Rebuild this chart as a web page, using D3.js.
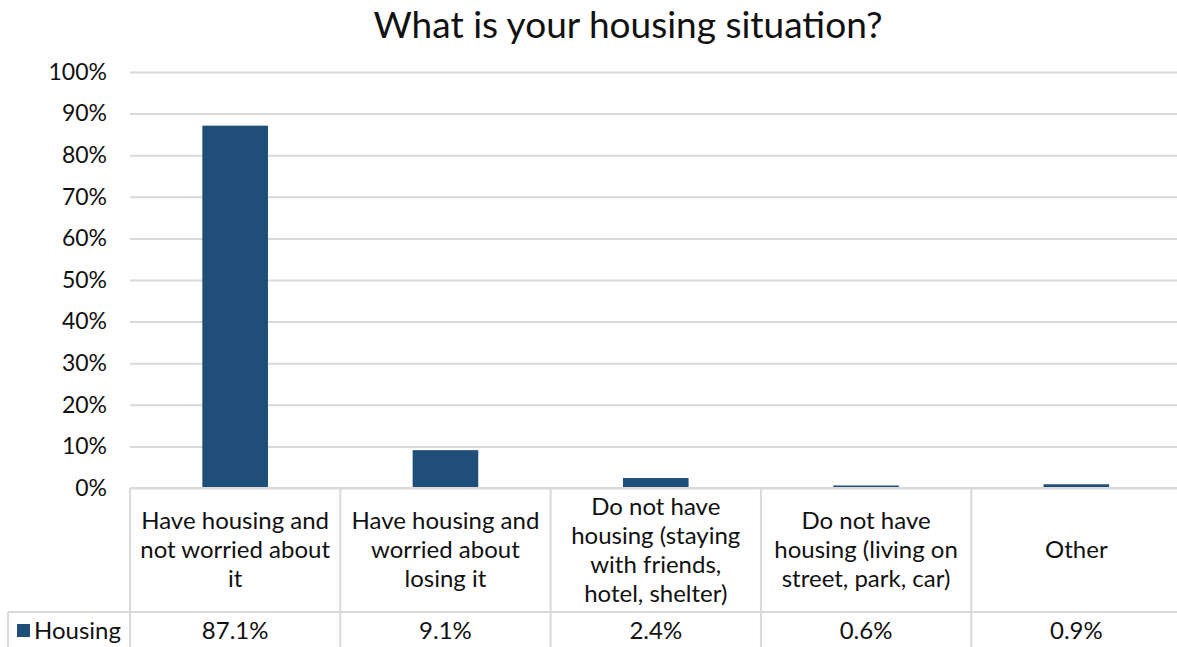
<!DOCTYPE html>
<html>
<head>
<meta charset="utf-8">
<script src="https://cdn.jsdelivr.net/npm/d3@7"></script>
<style>
  body { margin: 0; background: #fff; }
  svg { display: block; font-family: Lato, "Open Sans", sans-serif; font-weight: 400; }
</style>
</head>
<body>
<div id="chart"></div>
<script>
var categories = [
  ["Have housing and", "not worried about", "it"],
  ["Have housing and", "worried about", "losing it"],
  ["Do not have", "housing (staying", "with friends,", "hotel, shelter)"],
  ["Do not have", "housing (living on", "street, park, car)"],
  ["Other"]
];
var values = [87.1, 9.1, 2.4, 0.6, 0.9];
var yTicks = [0, 10, 20, 30, 40, 50, 60, 70, 80, 90, 100];
var seriesName = "Housing";

var width = 1177, height = 647;
var margin = {top: 72, left: 130, bottom: 488};

var svg = d3.select("#chart").append("svg")
    .attr("width", width)
    .attr("height", height);

var x = d3.scaleBand()
    .domain(d3.range(categories.length))
    .range([margin.left, 1181.5])
    .paddingInner(0)
    .paddingOuter(0);

var y = d3.scaleLinear()
    .domain([0, 100])
    .range([margin.bottom, margin.top]);

var gridColor = "#d9d9d9",
    barColor = "#1f4e79",
    textColor = "#111";

var fs = 24;

// title
svg.append("text")
    .attr("x", 628)
    .attr("y", 38)
    .attr("text-anchor", "middle")
    .attr("font-size", 37)
    .attr("fill", textColor)
    .text("What is your housing situation?");

// gridlines + y labels
svg.append("g")
    .attr("transform", "translate(" + margin.left + ",0)")
    .call(d3.axisLeft(y).tickValues(yTicks).tickSize(-(width - margin.left)).tickFormat(function(d) { return d + "%"; }))
    .call(function(g) {
      g.select(".domain").remove();
      g.selectAll(".tick line").attr("stroke", gridColor).attr("stroke-width", 2);
      g.selectAll(".tick text")
        .attr("x", -23)
        .attr("font-size", 23)
        .attr("font-family", "Lato, sans-serif")
        .attr("fill", textColor);
    });

// bars
var barW = x.bandwidth() * 0.312;
svg.selectAll(".bar")
    .data(values)
  .enter().append("rect")
    .attr("class", "bar")
    .attr("x", function(d, i) { return x(i) + x.bandwidth() / 2 - barW / 2; })
    .attr("y", function(d) { return y(d); })
    .attr("width", barW)
    .attr("height", function(d) { return y(0) - y(d); })
    .attr("fill", barColor);

// data table
var rowTop = margin.bottom, rowMid = 612, rowBottom = 660;
var table = svg.append("g")
    .attr("stroke", gridColor)
    .attr("stroke-width", 2);

table.append("line")
    .attr("x1", margin.left).attr("x2", width)
    .attr("y1", rowTop).attr("y2", rowTop);
table.append("line")
    .attr("x1", 8).attr("x2", width)
    .attr("y1", rowMid).attr("y2", rowMid);
table.append("line")
    .attr("x1", 8).attr("x2", 8)
    .attr("y1", rowMid).attr("y2", rowBottom);
table.selectAll(".sep")
    .data(d3.range(categories.length))
  .enter().append("line")
    .attr("class", "sep")
    .attr("x1", function(i) { return x(i); })
    .attr("x2", function(i) { return x(i); })
    .attr("y1", rowTop).attr("y2", rowBottom);

var lineH = 29;
var labels = svg.selectAll(".cat")
    .data(categories)
  .enter().append("text")
    .attr("class", "cat")
    .attr("text-anchor", "middle")
    .attr("font-size", fs)
    .attr("fill", textColor);

labels.selectAll("tspan")
    .data(function(d, i) {
      return d.map(function(s, j) { return {s: s, i: i, j: j, n: d.length}; });
    })
  .enter().append("tspan")
    .attr("x", function(d) { return x(d.i) + x.bandwidth() / 2; })
    .attr("y", function(d) { return 550 + (d.j - (d.n - 1) / 2) * lineH + 8; })
    .text(function(d) { return d.s; });

svg.selectAll(".val")
    .data(values)
  .enter().append("text")
    .attr("class", "val")
    .attr("x", function(d, i) { return x(i) + x.bandwidth() / 2; })
    .attr("y", 639)
    .attr("text-anchor", "middle")
    .attr("font-size", fs)
    .attr("fill", textColor)
    .text(function(d) { return d.toFixed(1) + "%"; });

// legend key
svg.append("rect")
    .attr("x", 17).attr("y", 624)
    .attr("width", 13).attr("height", 13)
    .attr("fill", barColor);
svg.append("text")
    .attr("x", 34).attr("y", 639)
    .attr("font-size", fs)
    .attr("fill", textColor)
    .text(seriesName);
</script>
</body>
</html>
